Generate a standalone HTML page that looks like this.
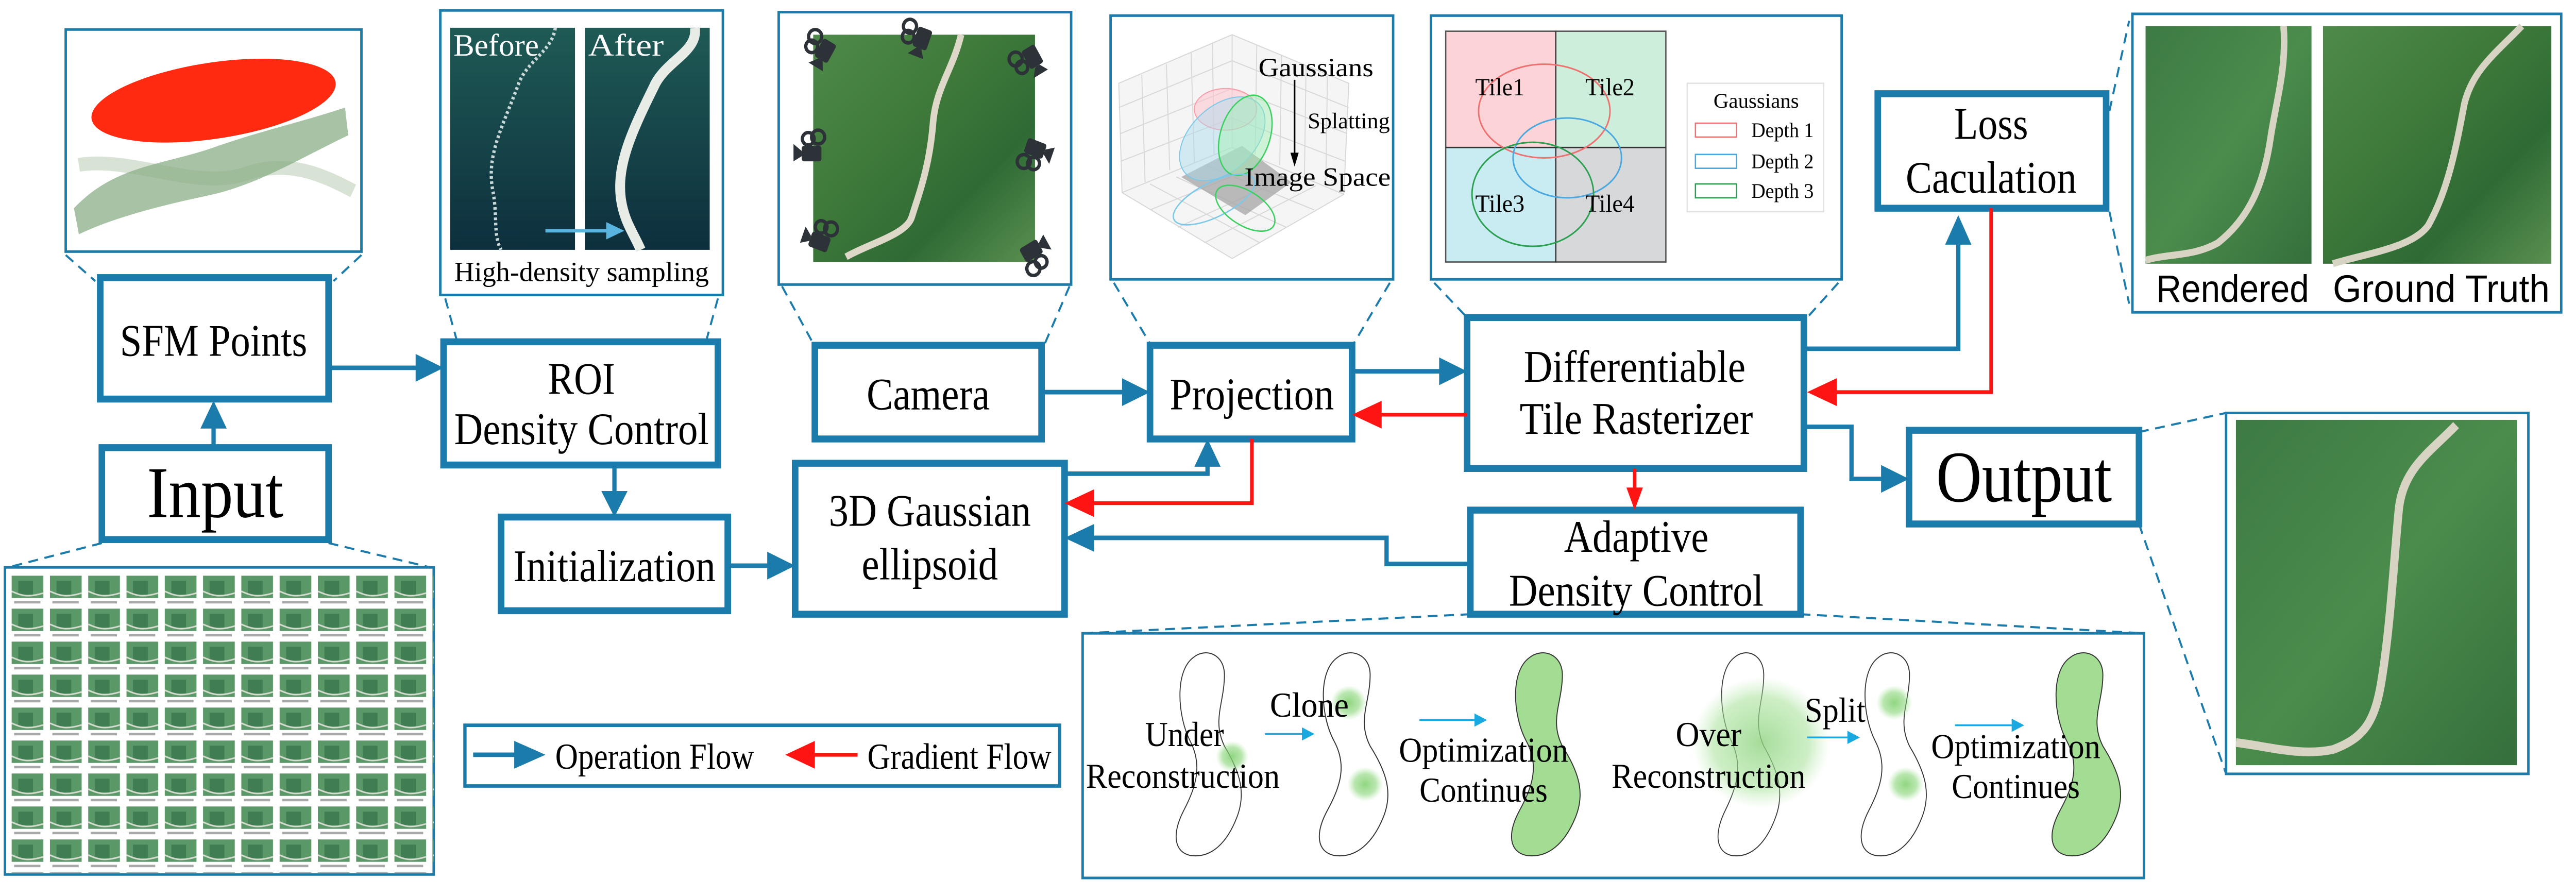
<!DOCTYPE html>
<html><head><meta charset="utf-8"><style>
html,body{margin:0;padding:0;background:#fff;width:100%;height:100%;overflow:hidden}
svg{display:block;width:100vw;height:100vh}
text{font-family:"Liberation Serif",serif;fill:#000}
.s{font-family:"Liberation Sans",sans-serif}
</style></head><body>
<svg viewBox="0 0 1568 516.4" preserveAspectRatio="none" xmlns="http://www.w3.org/2000/svg">
<defs>
<linearGradient id="forest" x1="0" y1="0" x2="1" y2="1">
<stop offset="0" stop-color="#4f8a4a"/><stop offset="0.4" stop-color="#3f7a3a"/><stop offset="0.7" stop-color="#2f6a35"/><stop offset="1" stop-color="#5a9050"/></linearGradient>
<linearGradient id="forest2" x1="0" y1="0" x2="1" y2="1">
<stop offset="0" stop-color="#3d7a45"/><stop offset="0.5" stop-color="#4b8c4c"/><stop offset="1" stop-color="#356f3c"/></linearGradient>
<linearGradient id="sea" x1="0" y1="0" x2="0" y2="1">
<stop offset="0" stop-color="#1f5a55"/><stop offset="1" stop-color="#0d2f3d"/></linearGradient>
<radialGradient id="gb"><stop offset="0" stop-color="#7ccf6a" stop-opacity="0.85"/><stop offset="0.6" stop-color="#8ad67a" stop-opacity="0.6"/><stop offset="1" stop-color="#a8e59a" stop-opacity="0"/></radialGradient>
<radialGradient id="gb2"><stop offset="0" stop-color="#8fd480" stop-opacity="0.8"/><stop offset="0.7" stop-color="#a6e198" stop-opacity="0.55"/><stop offset="1" stop-color="#c2ecb8" stop-opacity="0"/></radialGradient>
<pattern id="thumbs" x="7.1" y="331.8" width="23.3" height="19" patternUnits="userSpaceOnUse">
<rect x="0" y="0" width="19.3" height="12.9" fill="#5a9868"/>
<rect x="4" y="3" width="9" height="8" fill="#2f6a45" opacity="0.6"/>
<path d="M0,9 C5,11 9,13 19.3,10" stroke="#d6ddd0" stroke-width="0.9" fill="none"/>
<rect x="1.5" y="14.6" width="16" height="1.4" fill="#a8a8a8"/>
</pattern>
<g id="cam" fill="#2d3238">
<rect x="-6" y="-4" width="12" height="9" rx="1.5"/>
<polygon points="-6,-1 -11,-5 -11,5 -6,2"/>
<circle cx="-2" cy="-8" r="3.6" fill="none" stroke="#2d3238" stroke-width="2"/>
<circle cx="4" cy="-9" r="4" fill="none" stroke="#2d3238" stroke-width="2"/>
</g>
<path id="blob" d="M14,4 C22,-2 34,2 34,14 C34,30 26,40 34,55 C44,70 48,82 42,96 C36,110 26,120 12,118 C2,116 0,106 8,92 C16,78 20,66 12,52 C4,38 2,12 14,4 Z"/>
</defs>

<!-- SFM thumb -->
<rect x="40" y="17" width="180" height="128" fill="#fff" stroke="#1b7bab" stroke-width="1.5"/>
<path d="M45,120 C70,95 100,95 130,85 C160,75 185,70 210,62 L212,78 C185,90 160,105 130,112 C100,118 70,125 48,135 Z" fill="#5f8f5a" opacity="0.55"/>
<path d="M48,95 C80,90 120,110 150,100 C175,92 195,100 215,110" stroke="#8fb08a" stroke-width="8" fill="none" opacity="0.35"/>
<g transform="rotate(-8 130 58)">
<ellipse cx="130" cy="58" rx="75" ry="22" fill="#ff2a10"/>
</g>

<!-- Input grid -->
<rect x="3" y="327" width="261" height="177" fill="#fff" stroke="#1b7bab" stroke-width="1.5"/>
<rect x="7" y="331" width="257" height="172" fill="url(#thumbs)"/>

<g stroke="#1b7bab" stroke-width="1.2" stroke-dasharray="6,4" fill="none">
<line x1="40" y1="147" x2="58" y2="162"/><line x1="220" y1="147" x2="203" y2="162"/>
<line x1="62" y1="313" x2="5" y2="327"/><line x1="200" y1="313" x2="262" y2="327"/>
<line x1="271" y1="172" x2="278" y2="196"/><line x1="437" y1="172" x2="430" y2="196"/>
<line x1="476" y1="165" x2="495" y2="198"/><line x1="651" y1="165" x2="636" y2="198"/>
<line x1="678" y1="163" x2="700" y2="198"/><line x1="846" y1="163" x2="824" y2="198"/>
<line x1="873" y1="163" x2="892" y2="182"/><line x1="1119" y1="163" x2="1101" y2="182"/>
<line x1="1284" y1="64" x2="1296" y2="12"/><line x1="1284" y1="122" x2="1296" y2="175"/>
<line x1="1302" y1="249" x2="1355" y2="238"/><line x1="1302" y1="302" x2="1355" y2="446"/>
<line x1="895" y1="354" x2="660" y2="365"/><line x1="1096" y1="354" x2="1305" y2="365"/>
</g>

<!-- ROI thumb -->
<rect x="268" y="6" width="172" height="164" fill="#fff" stroke="#1b7bab" stroke-width="1.5"/>
<rect x="274" y="16" width="76" height="128" fill="url(#sea)"/>
<rect x="356" y="16" width="76" height="128" fill="url(#sea)"/>
<path d="M338,16 C336,30 320,35 315,50 C305,75 296,90 300,110 C303,125 300,135 305,144" stroke="#c8d8d8" stroke-width="2" stroke-dasharray="1.5,1.5" fill="none"/>
<path d="M423,16 C425,30 405,35 398,50 C385,75 375,95 378,115 C380,128 386,135 390,144" stroke="#e8ece6" stroke-width="6" fill="none"/>
<text x="276" y="32" font-size="18" style="fill:#fff" textLength="52" lengthAdjust="spacingAndGlyphs">Before</text>
<text x="358" y="32" font-size="18" style="fill:#fff" textLength="46" lengthAdjust="spacingAndGlyphs">After</text>
<line x1="332" y1="133" x2="370" y2="133" stroke="#5ab4e0" stroke-width="2"/>
<polygon points="380,133 369,128 369,138" fill="#5ab4e0"/>
<text x="354" y="162" font-size="16" text-anchor="middle" textLength="155" lengthAdjust="spacingAndGlyphs">High-density sampling</text>

<!-- Camera thumb -->
<rect x="474" y="7" width="178" height="157" fill="#fff" stroke="#1b7bab" stroke-width="1.5"/>
<rect x="495" y="20" width="135" height="131" fill="url(#forest)"/>
<path d="M585,20 C580,40 570,50 568,70 C566,95 560,110 555,125 C552,135 530,140 515,148" stroke="#ddd8c8" stroke-width="4" fill="none"/>
<use href="#cam" transform="translate(502,29) rotate(-60)"/>
<use href="#cam" transform="translate(561,22) rotate(-70)"/>
<use href="#cam" transform="translate(628,33) rotate(-120)"/>
<use href="#cam" transform="translate(494,88)"/>
<use href="#cam" transform="translate(630,86) rotate(-160)"/>
<use href="#cam" transform="translate(499,139) rotate(20)"/>
<use href="#cam" transform="translate(628,145) rotate(150)"/>

<!-- Projection thumb -->
<rect x="676" y="9" width="172" height="152" fill="#fff" stroke="#1b7bab" stroke-width="1.5"/>
<g stroke="#d8d8d8" stroke-width="0.6" fill="none">
<polygon points="750,20 681,48 683,111 750,149 818,112 821,48" fill="#f5f5f5"/>
<line x1="750" y1="20" x2="750" y2="85"/><line x1="683" y1="111" x2="750" y2="85"/><line x1="818" y1="112" x2="750" y2="85"/>
<line x1="695" y1="43" x2="697" y2="105"/><line x1="710" y1="37" x2="712" y2="98"/><line x1="725" y1="30" x2="727" y2="94"/><line x1="738" y1="25" x2="739" y2="89"/>
<line x1="765" y1="26" x2="764" y2="89"/><line x1="780" y1="32" x2="779" y2="95"/><line x1="795" y1="38" x2="794" y2="101"/><line x1="808" y1="44" x2="807" y2="106"/>
<line x1="681" y1="62" x2="750" y2="35"/><line x1="682" y1="77" x2="750" y2="51"/><line x1="682" y1="93" x2="750" y2="68"/>
<line x1="821" y1="62" x2="750" y2="35"/><line x1="820" y1="77" x2="750" y2="51"/><line x1="819" y1="93" x2="750" y2="68"/>
<line x1="700" y1="121" x2="767" y2="95"/><line x1="717" y1="131" x2="784" y2="102"/><line x1="733" y1="140" x2="801" y2="107"/>
<line x1="800" y1="121" x2="733" y2="95"/><line x1="783" y1="131" x2="716" y2="102"/><line x1="767" y1="140" x2="700" y2="106"/>
</g>
<polygon points="719,102 756,84 786,105 758,124" fill="#aaa" opacity="0.8"/>
<ellipse cx="746" cy="63" rx="19" ry="12" fill="#ffc0c8" fill-opacity="0.5" stroke="#ff9aa8" stroke-width="0.6"/>
<ellipse cx="744" cy="80" rx="30" ry="19" transform="rotate(-40 744 80)" fill="#a8dcf0" fill-opacity="0.45" stroke="#7cc8e8" stroke-width="0.6"/>
<ellipse cx="758" cy="78" rx="24" ry="15" transform="rotate(-70 758 78)" fill="#9ff0b0" fill-opacity="0.45" stroke="#3ad060" stroke-width="0.8"/>
<ellipse cx="739" cy="115" rx="27" ry="10" transform="rotate(-25 739 115)" fill="none" stroke="#7cc8e8" stroke-width="0.8"/>
<ellipse cx="758" cy="120" rx="20" ry="10" transform="rotate(30 758 120)" fill="none" stroke="#3ad060" stroke-width="0.8"/>
<line x1="788" y1="46" x2="788" y2="90" stroke="#000" stroke-width="1"/>
<polygon points="788,96 785.5,88 790.5,88" fill="#000"/>
<text x="801" y="44" font-size="15" text-anchor="middle" textLength="70" lengthAdjust="spacingAndGlyphs">Gaussians</text>
<text x="821" y="74" font-size="13" text-anchor="middle" textLength="50" lengthAdjust="spacingAndGlyphs">Splatting</text>
<text x="802" y="107" font-size="15" text-anchor="middle" textLength="89" lengthAdjust="spacingAndGlyphs">Image Space</text>

<!-- Tile thumb -->
<rect x="871" y="9" width="250" height="152" fill="#fff" stroke="#1b7bab" stroke-width="1.5"/>
<rect x="880" y="18" width="67" height="67" fill="#fcd4d8"/>
<rect x="947" y="18" width="67" height="67" fill="#cdeedb"/>
<rect x="880" y="85" width="67" height="66" fill="#c8ecf2"/>
<rect x="947" y="85" width="67" height="66" fill="#d6d8da"/>
<rect x="880" y="18" width="134" height="133" fill="none" stroke="#555" stroke-width="0.8"/>
<line x1="947" y1="18" x2="947" y2="151" stroke="#333" stroke-width="0.8"/>
<line x1="880" y1="85" x2="1014" y2="85" stroke="#333" stroke-width="0.8"/>
<ellipse cx="940" cy="64" rx="40" ry="27" fill="none" stroke="#f07070" stroke-width="0.9"/>
<ellipse cx="954" cy="91" rx="33" ry="23" fill="none" stroke="#4aa8e0" stroke-width="0.9"/>
<ellipse cx="933" cy="112" rx="37" ry="30" fill="none" stroke="#2aa050" stroke-width="0.9"/>
<g font-size="14">
<text x="913" y="55" text-anchor="middle" textLength="30" lengthAdjust="spacingAndGlyphs">Tile1</text>
<text x="980" y="55" text-anchor="middle" textLength="30" lengthAdjust="spacingAndGlyphs">Tile2</text>
<text x="913" y="122" text-anchor="middle" textLength="30" lengthAdjust="spacingAndGlyphs">Tile3</text>
<text x="980" y="122" text-anchor="middle" textLength="30" lengthAdjust="spacingAndGlyphs">Tile4</text>
</g>
<rect x="1027" y="48" width="83" height="74" fill="#fff" stroke="#e2e2e2" stroke-width="0.8"/>
<text x="1069" y="62" font-size="12" text-anchor="middle" textLength="52" lengthAdjust="spacingAndGlyphs">Gaussians</text>
<rect x="1032" y="71" width="25" height="8" fill="none" stroke="#f07070" stroke-width="0.8"/>
<rect x="1032" y="89" width="25" height="8" fill="none" stroke="#4aa8e0" stroke-width="0.8"/>
<rect x="1032" y="106" width="25" height="8" fill="none" stroke="#2aa050" stroke-width="0.8"/>
<g font-size="12"><text x="1066" y="79" textLength="38" lengthAdjust="spacingAndGlyphs">Depth 1</text>
<text x="1066" y="97" textLength="38" lengthAdjust="spacingAndGlyphs">Depth 2</text>
<text x="1066" y="114" textLength="38" lengthAdjust="spacingAndGlyphs">Depth 3</text></g>

<!-- Rendered / GT -->
<rect x="1298" y="8" width="261" height="172" fill="#fff" stroke="#1b7bab" stroke-width="1.5"/>
<rect x="1306" y="15" width="101" height="137" fill="url(#forest2)"/>
<rect x="1414" y="15" width="139" height="137" fill="url(#forest)"/>
<path d="M1390,15 C1392,40 1385,60 1382,80 C1378,105 1370,125 1350,140 C1335,148 1320,146 1306,150" stroke="#d8d4c4" stroke-width="4" fill="none"/>
<path d="M1535,15 C1520,30 1505,40 1500,60 C1495,85 1490,110 1478,130 C1468,143 1440,146 1420,152" stroke="#d8d4c4" stroke-width="4" fill="none"/>
<text class="s" x="1359" y="174" font-size="22" text-anchor="middle" textLength="93" lengthAdjust="spacingAndGlyphs">Rendered</text>
<text class="s" x="1486" y="174" font-size="22" text-anchor="middle" textLength="132" lengthAdjust="spacingAndGlyphs">Ground Truth</text>

<!-- Output image -->
<rect x="1355" y="238" width="184" height="208" fill="#fff" stroke="#1b7bab" stroke-width="1.5"/>
<rect x="1361" y="242" width="171" height="199" fill="url(#forest2)"/>
<path d="M1495,245 C1480,260 1462,270 1460,295 C1457,325 1455,360 1450,390 C1446,415 1440,425 1420,432 C1400,436 1380,430 1361,428" stroke="#d8d4c4" stroke-width="5" fill="none"/>

<!-- Main boxes -->
<g fill="#fff" stroke="#1b7bab" stroke-width="4">
<rect x="61" y="160" width="139" height="70"/>
<rect x="62" y="258" width="138" height="53"/>
<rect x="270" y="197" width="167" height="71"/>
<rect x="305" y="298" width="138" height="54"/>
<rect x="484" y="267" width="164" height="87"/>
<rect x="496" y="199" width="138" height="54"/>
<rect x="700" y="199" width="123" height="54"/>
<rect x="893" y="183" width="205" height="87"/>
<rect x="1143" y="54" width="139" height="66"/>
<rect x="895" y="294" width="201" height="60"/>
<rect x="1162" y="248" width="140" height="54"/>
</g>
<g font-size="26">
<text x="130" y="205" text-anchor="middle" textLength="114" lengthAdjust="spacingAndGlyphs">SFM Points</text>
<text x="131" y="298" font-size="42" text-anchor="middle" textLength="83" lengthAdjust="spacingAndGlyphs">Input</text>
<text x="354" y="227" text-anchor="middle" textLength="41" lengthAdjust="spacingAndGlyphs">ROI</text>
<text x="354" y="256" text-anchor="middle" textLength="155" lengthAdjust="spacingAndGlyphs">Density Control</text>
<text x="374" y="335" text-anchor="middle" textLength="123" lengthAdjust="spacingAndGlyphs">Initialization</text>
<text x="566" y="303" text-anchor="middle" textLength="123" lengthAdjust="spacingAndGlyphs">3D Gaussian</text>
<text x="566" y="334" text-anchor="middle" textLength="83" lengthAdjust="spacingAndGlyphs">ellipsoid</text>
<text x="565" y="236" text-anchor="middle" textLength="75" lengthAdjust="spacingAndGlyphs">Camera</text>
<text x="762" y="236" text-anchor="middle" textLength="100" lengthAdjust="spacingAndGlyphs">Projection</text>
<text x="995" y="220" text-anchor="middle" textLength="135" lengthAdjust="spacingAndGlyphs">Differentiable</text>
<text x="996" y="250" text-anchor="middle" textLength="142" lengthAdjust="spacingAndGlyphs">Tile Rasterizer</text>
<text x="1212" y="80" text-anchor="middle" textLength="45" lengthAdjust="spacingAndGlyphs">Loss</text>
<text x="1212" y="111" text-anchor="middle" textLength="104" lengthAdjust="spacingAndGlyphs">Caculation</text>
<text x="996" y="318" text-anchor="middle" textLength="88" lengthAdjust="spacingAndGlyphs">Adaptive</text>
<text x="996" y="349" text-anchor="middle" textLength="155" lengthAdjust="spacingAndGlyphs">Density Control</text>
<text x="1232" y="289" font-size="42" text-anchor="middle" textLength="107" lengthAdjust="spacingAndGlyphs">Output</text>
</g>

<!-- Connectors -->
<g stroke="#1b7bab" stroke-width="2.6" fill="none">
<line x1="200" y1="212" x2="254" y2="212"/>
<line x1="130" y1="258" x2="130" y2="246"/>
<line x1="374" y1="268" x2="374" y2="284"/>
<line x1="443" y1="326" x2="468" y2="326"/>
<line x1="634" y1="226" x2="684" y2="226"/>
<polyline points="648,273 735,273 735,268"/>
<line x1="823" y1="214" x2="877" y2="214"/>
<polyline points="895,325 844,325 844,310 665,310"/>
<polyline points="1098,201 1192,201 1192,140"/>
<polyline points="1098,246 1127,246 1127,276 1146,276"/>
</g>
<g fill="#1b7bab">
<polygon points="270,212 253,204 253,220"/>
<polygon points="130,231 122,247 138,247"/>
<polygon points="374,298 366,283 382,283"/>
<polygon points="484,326 467,318 467,334"/>
<polygon points="700,226 683,218 683,234"/>
<polygon points="735,253 727,269 743,269"/>
<polygon points="893,214 876,206 876,222"/>
<polygon points="648,310 666,302 666,318"/>
<polygon points="1192,124 1184,141 1200,141"/>
<polygon points="1162,276 1145,268 1145,284"/>
</g>
<g stroke="#ff1414" stroke-width="2.2" fill="none">
<line x1="893" y1="239" x2="840" y2="239"/>
<polyline points="762,253 762,290 665,290"/>
<polyline points="1212,120 1212,226 1117,226"/>
<line x1="995" y1="270" x2="995" y2="282"/>
</g>
<g fill="#ff1414">
<polygon points="823,239 841,231 841,247"/>
<polygon points="648,290 666,282 666,298"/>
<polygon points="1100,226 1118,218 1118,234"/>
<polygon points="995,294 990,281 1000,281"/>
</g>

<!-- Legend -->
<rect x="283" y="418" width="362" height="35" fill="#fff" stroke="#1b7bab" stroke-width="2"/>
<line x1="288" y1="435" x2="314" y2="435" stroke="#1b7bab" stroke-width="2.6"/>
<polygon points="332,435 313,427 313,443" fill="#1b7bab"/>
<text x="338" y="443" font-size="21" textLength="121" lengthAdjust="spacingAndGlyphs">Operation Flow</text>
<polygon points="478,435 496,427 496,443" fill="#ff1414"/>
<line x1="495" y1="435" x2="522" y2="435" stroke="#ff1414" stroke-width="2.2"/>
<text x="528" y="443" font-size="21" textLength="112" lengthAdjust="spacingAndGlyphs">Gradient Flow</text>

<!-- Bottom panel -->
<rect x="659" y="365" width="646" height="141" fill="#fff" stroke="#1b7bab" stroke-width="1.5"/>
<g fill="none" stroke="#333" stroke-width="0.6">
<use href="#blob" transform="translate(713,375) scale(0.95,1)"/>
<use href="#blob" transform="translate(800,375) scale(1,1)"/>
<use href="#blob" transform="translate(1043,375) scale(0.9,1)"/>
<use href="#blob" transform="translate(1130,375) scale(0.95,1)"/>
</g>
<use href="#blob" transform="translate(917,375) scale(1,1)" fill="#a3dd93" stroke="#333" stroke-width="0.6"/>
<use href="#blob" transform="translate(1246,375) scale(1,1)" fill="#a3dd93" stroke="#333" stroke-width="0.6"/>
<ellipse cx="750" cy="436" rx="10" ry="9" fill="url(#gb)"/>
<ellipse cx="821" cy="405" rx="11" ry="10" fill="url(#gb)"/>
<ellipse cx="831" cy="452" rx="11" ry="10" fill="url(#gb)"/>
<ellipse cx="1072" cy="428" rx="42" ry="38" fill="url(#gb2)"/>
<ellipse cx="1153" cy="405" rx="11" ry="10" fill="url(#gb)"/>
<ellipse cx="1160" cy="452" rx="11" ry="10" fill="url(#gb)"/>
<g font-size="20">
<text x="721" y="430" text-anchor="middle" textLength="48" lengthAdjust="spacingAndGlyphs">Under</text>
<text x="720" y="454" text-anchor="middle" textLength="118" lengthAdjust="spacingAndGlyphs">Reconstruction</text>
<text x="797" y="413" text-anchor="middle" textLength="48" lengthAdjust="spacingAndGlyphs">Clone</text>
<text x="903" y="439" text-anchor="middle" textLength="103" lengthAdjust="spacingAndGlyphs">Optimization</text>
<text x="903" y="462" text-anchor="middle" textLength="78" lengthAdjust="spacingAndGlyphs">Continues</text>
<text x="1040" y="430" text-anchor="middle" textLength="40" lengthAdjust="spacingAndGlyphs">Over</text>
<text x="1040" y="454" text-anchor="middle" textLength="118" lengthAdjust="spacingAndGlyphs">Reconstruction</text>
<text x="1117" y="416" text-anchor="middle" textLength="37" lengthAdjust="spacingAndGlyphs">Split</text>
<text x="1227" y="437" text-anchor="middle" textLength="103" lengthAdjust="spacingAndGlyphs">Optimization</text>
<text x="1227" y="460" text-anchor="middle" textLength="78" lengthAdjust="spacingAndGlyphs">Continues</text>
</g>
<g stroke="#1aa8e0" stroke-width="1" fill="#1aa8e0">
<line x1="770" y1="423" x2="795" y2="423"/><polygon points="799,423 793,420 793,426"/>
<line x1="864" y1="415" x2="900" y2="415"/><polygon points="904,415 898,412 898,418"/>
<line x1="1100" y1="425" x2="1127" y2="425"/><polygon points="1131,425 1125,422 1125,428"/>
<line x1="1190" y1="418" x2="1227" y2="418"/><polygon points="1231,418 1225,415 1225,421"/>
</g>
</svg>
</body></html>
